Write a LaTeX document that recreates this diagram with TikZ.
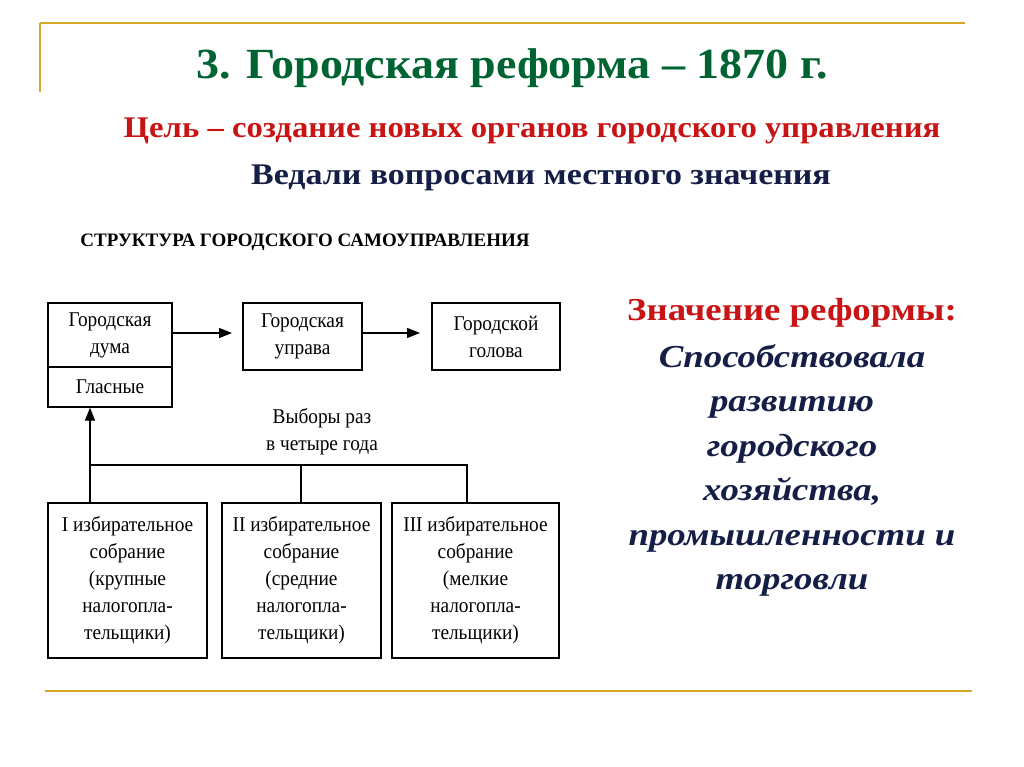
\documentclass[tikz,border=0pt]{standalone}
\usepackage{fontspec}
\setmainfont{Liberation Serif}
\usetikzlibrary{arrows.meta}
\definecolor{gold}{RGB}{214,168,40}
\definecolor{tgreen}{RGB}{0,100,50}
\definecolor{tred}{RGB}{200,20,20}
\definecolor{tblue}{RGB}{20,30,70}
\begin{document}
\begin{tikzpicture}[x=1pt,y=-1pt,
  bx/.style={draw,line width=1.2pt,inner sep=0pt},
  bt/.style={font=\fontsize{21}{27}\selectfont,align=center,xscale=0.92},
  arr/.style={line width=1.2pt,-{Triangle[length=13pt,width=10pt]}},
  ln/.style={line width=1.2pt}]
\useasboundingbox (0,0) rectangle (1024,767);
\fill[white] (0,0) rectangle (1024,767);
\draw[gold,line width=2pt] (40,23) -- (965,23);
\draw[gold,line width=1.5pt] (40,23) -- (40,92);
\draw[gold,line width=2pt] (45,691) -- (972,691);
\node[text=tgreen,font=\bfseries\fontsize{43}{45}\selectfont,xscale=1.07] (t) at (512,68) {3. Городская реформа – 1870 г.};
\node[text=tred,font=\bfseries\fontsize{30}{32}\selectfont,xscale=1.09] (g) at (532,131) {Цель – создание новых органов городского управления};
\node[text=tblue,font=\bfseries\fontsize{30}{32}\selectfont,xscale=1.13] (v) at (541,178) {Ведали вопросами местного значения};
\node[font=\bfseries\fontsize{19}{20}\selectfont] (s) at (305,242) {СТРУКТУРА ГОРОДСКОГО САМОУПРАВЛЕНИЯ};
% boxes
\node[bx,minimum width=124pt,minimum height=64pt] (duma) at (110,335) {};
\node[bt] at (duma) {Городская\\дума};
\node[bx,minimum width=124pt,minimum height=40pt] (gl) at (110,387) {};
\node[bt] at (gl) {Гласные};
\node[bx,minimum width=119pt,minimum height=67pt] (up) at (302.5,336.5) {};
\node[bt] at (up) {Городская\\управа};
\node[bx,minimum width=128pt,minimum height=67pt] (gol) at (496,336.5) {};
\node[bt] at (gol) {Городской\\голова};
\draw[arr] (duma.east |- 0,333) -- (232,333);
\draw[arr] (up.east |- 0,333) -- (420,333);
\node[bt] (vyb) at (322,432) {Выборы раз\\в четыре года};
\node[bx,minimum width=159pt,minimum height=155pt] (b1) at (127.5,580.5) {};
\node[bx,minimum width=159pt,minimum height=155pt] (b2) at (301.5,580.5) {};
\node[bx,minimum width=167pt,minimum height=155pt] (b3) at (475.5,580.5) {};
\node[bt] at (b1) {I избирательное\\собрание\\(крупные\\налогопла-\\тельщики)};
\node[bt] at (b2) {II избирательное\\собрание\\(средние\\налогопла-\\тельщики)};
\node[bt] at (b3) {III избирательное\\собрание\\(мелкие\\налогопла-\\тельщики)};
\coordinate (j1) at (90,465);
\coordinate (j3) at (467,465);
\draw[arr] (b1.north -| j1) -- (gl.south -| j1);
\draw[ln] (j1) -- (j3) -- (b3.north -| j3);
\draw[ln] (301,465) -- (b2.north -| 301,0);
% right
\node[text=tred,font=\bfseries\fontsize{32}{34}\selectfont,xscale=1.15] (zn) at (792,313) {Значение реформы:};
\node[text=tblue,font=\bfseries\itshape\fontsize{32}{44.5}\selectfont,align=center,anchor=north,xscale=1.15] (zt) at (792,341) {Способствовала\\развитию\\городского\\хозяйства,\\промышленности и\\торговли};
\end{tikzpicture}
\end{document}
